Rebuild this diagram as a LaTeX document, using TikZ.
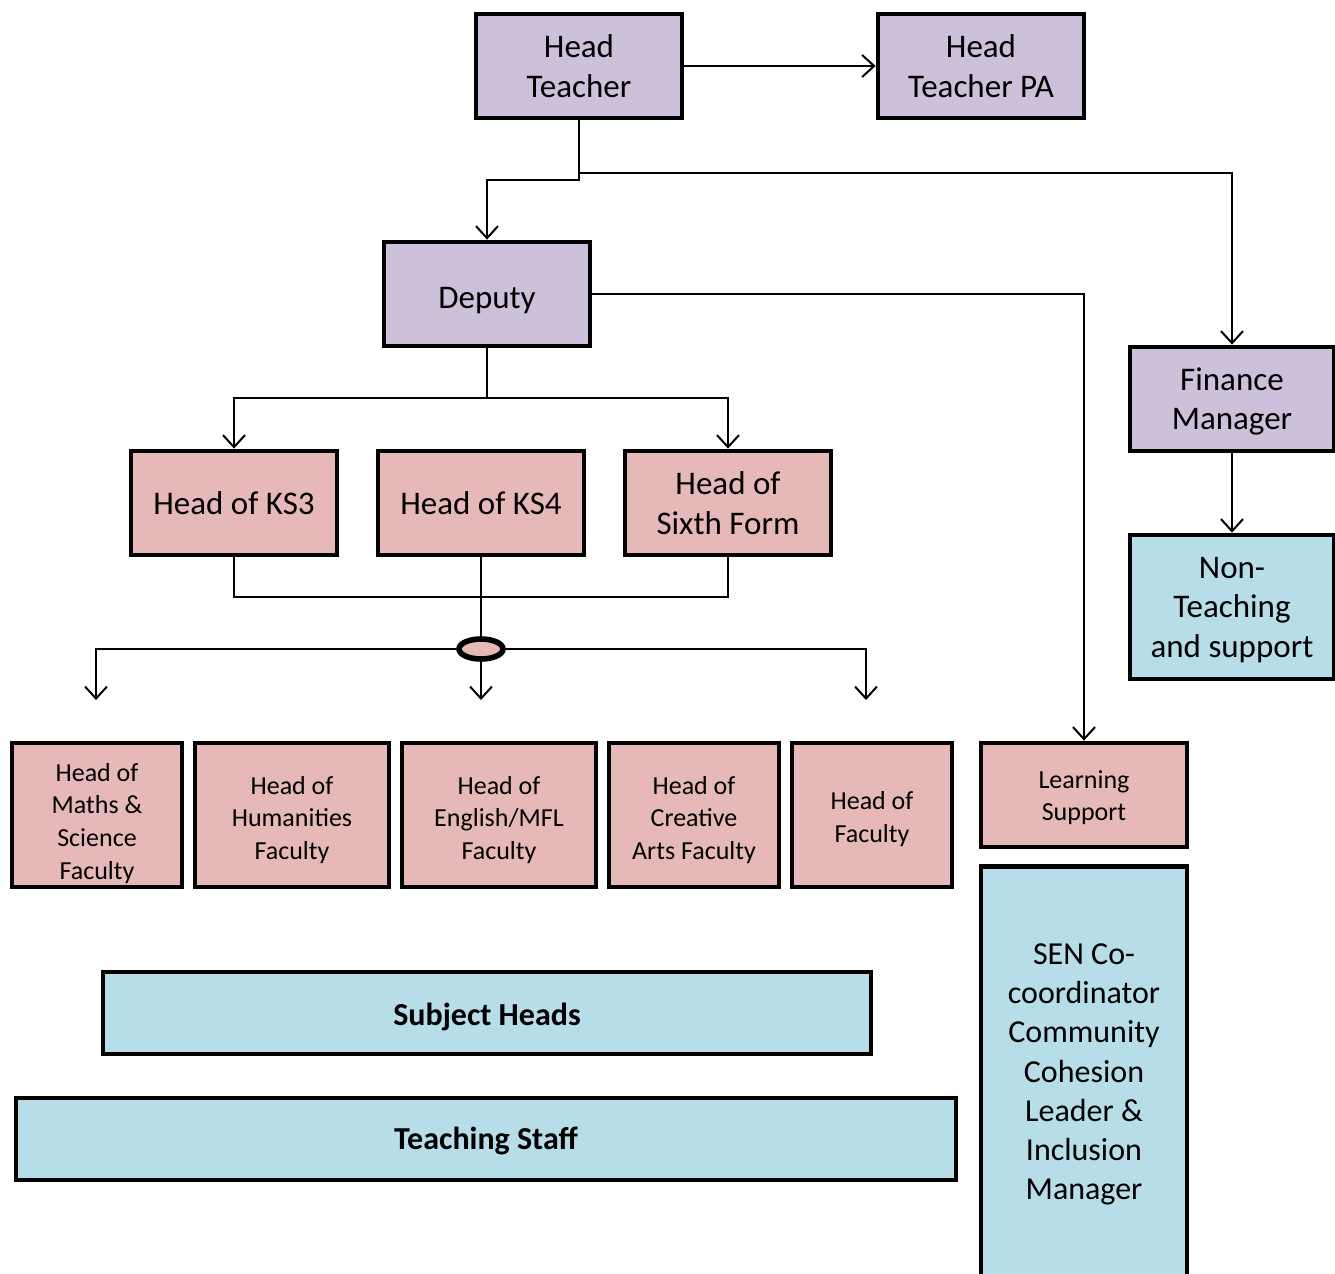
\documentclass[tikz,border=0pt]{standalone}
\usepackage{fontspec}
\setmainfont{Carlito}
\usetikzlibrary{arrows.meta,shapes.geometric}
\definecolor{lav}{HTML}{CCC0DA}
\definecolor{rose}{HTML}{E6B9B8}
\definecolor{aqua}{HTML}{B7DDE8}
\newcommand\liftby[1]{\rule{0pt}{#1}}
\tikzset{
  box/.style={draw=black,line width=2.4pt,align=center,inner sep=0pt},
  bigtxt/.style={font=\fontsize{16.5}{19.7}\selectfont},
  smalltxt/.style={font=\fontsize{13}{16.3}\selectfont},
  conn/.style={line width=1pt,draw=black},
  arr/.style={conn,-{Straight Barb[length=6pt,width=11pt,line width=1pt]}},
}
\begin{document}
\begin{tikzpicture}[x=0.5pt,y=-0.5pt]
\useasboundingbox (0,0) rectangle (1335,1274);
% top level
\node[box,bigtxt,fill=lav,minimum width=103pt,minimum height=52pt] (ht) at (579,66) {Head\\Teacher};
\node[box,bigtxt,fill=lav,minimum width=103pt,minimum height=52pt] (pa) at (981,66) {Head\\Teacher PA};
\node[box,bigtxt,fill=lav,minimum width=103pt,minimum height=52pt,text depth=0pt,text height=14pt] (dep) at (487,294) {Deputy};
\node[box,bigtxt,fill=lav,minimum width=102pt,minimum height=52pt] (fm) at (1232,399) {\liftby{14.1pt}Finance\\Manager};
\node[box,bigtxt,fill=aqua,minimum width=102pt,minimum height=72pt] (nt) at (1232,607) {\liftby{13.6pt}Non-\\Teaching\\and support};
% key stage
\node[box,bigtxt,fill=rose,minimum width=103pt,minimum height=52pt] (ks3) at (234,503) {Head of KS3};
\node[box,bigtxt,fill=rose,minimum width=103pt,minimum height=52pt] (ks4) at (481,503) {Head of KS4};
\node[box,bigtxt,fill=rose,minimum width=103pt,minimum height=52pt] (six) at (728,503) {Head of\\Sixth Form};
% faculties
\node[box,smalltxt,fill=rose,minimum width=85pt,minimum height=72pt] (f1) at (97,815) {\liftby{17.3pt}Head of\\Maths \&\\Science\\Faculty};
\node[box,smalltxt,fill=rose,minimum width=97pt,minimum height=72pt] (f2) at (292,815) {\liftby{13.8pt}Head of\\Humanities\\Faculty};
\node[box,smalltxt,fill=rose,minimum width=97pt,minimum height=72pt] (f3) at (499,815) {\liftby{13.8pt}Head of\\English/MFL\\Faculty};
\node[box,smalltxt,fill=rose,minimum width=85pt,minimum height=72pt] (f4) at (694,815) {\liftby{13.8pt}Head of\\Creative\\Arts Faculty};
\node[box,smalltxt,fill=rose,minimum width=80pt,minimum height=72pt] (f5) at (872,815) {\liftby{13.3pt}Head of\\Faculty};
\node[box,smalltxt,fill=rose,minimum width=103pt,minimum height=52pt] (ls) at (1084,795) {\liftby{11.5pt}Learning\\Support};
% SEN box runs past bottom edge
\node[box,fill=aqua,minimum width=103pt,minimum height=208pt,font=\fontsize{16}{19.6}\selectfont,anchor=north] (sen) at (1084,864) {SEN Co-\\coordinator\\Community\\Cohesion\\Leader \&\\Inclusion\\Manager};
% bars
\node[box,fill=aqua,minimum width=384pt,minimum height=41pt,font=\fontsize{16}{20}\selectfont\bfseries] (sh) at (487,1013) {\liftby{14.8pt}Subject Heads};
\node[box,fill=aqua,minimum width=470pt,minimum height=41pt,font=\fontsize{16}{20}\selectfont\bfseries] (ts) at (486,1139) {\liftby{13.7pt}Teaching Staff};
% hub
\node[draw=black,line width=2.8pt,fill=rose,ellipse,minimum width=22pt,minimum height=10pt,inner sep=0pt] (hub) at (481,649) {};
% free ends
\coordinate (e1) at (96,700);
\coordinate (e2) at (481,700);
\coordinate (e3) at (866,700);
% connectors
\draw[arr] (ht.east) -- (pa.west);
\draw[arr] (ht.south) |- (487,180) -- (dep.north);
\draw[arr] (579,173) -| (fm.north);
\draw[arr] (dep.east) -| (ls.north);
\draw[arr] (fm.south) -- (nt.north);
\draw[conn] (dep.south) -- (487,398);
\draw[arr] (487,398) -| (ks3.north);
\draw[arr] (487,398) -| (six.north);
\draw[conn] (ks3.south) |- (728,597) -- (six.south);
\draw[conn] (ks4.south) -- (hub.north);
\draw[arr] (hub.west) -| (e1);
\draw[arr] (hub.east) -| (e3);
\draw[arr] (hub.south) -- (e2);
\end{tikzpicture}
\end{document}
